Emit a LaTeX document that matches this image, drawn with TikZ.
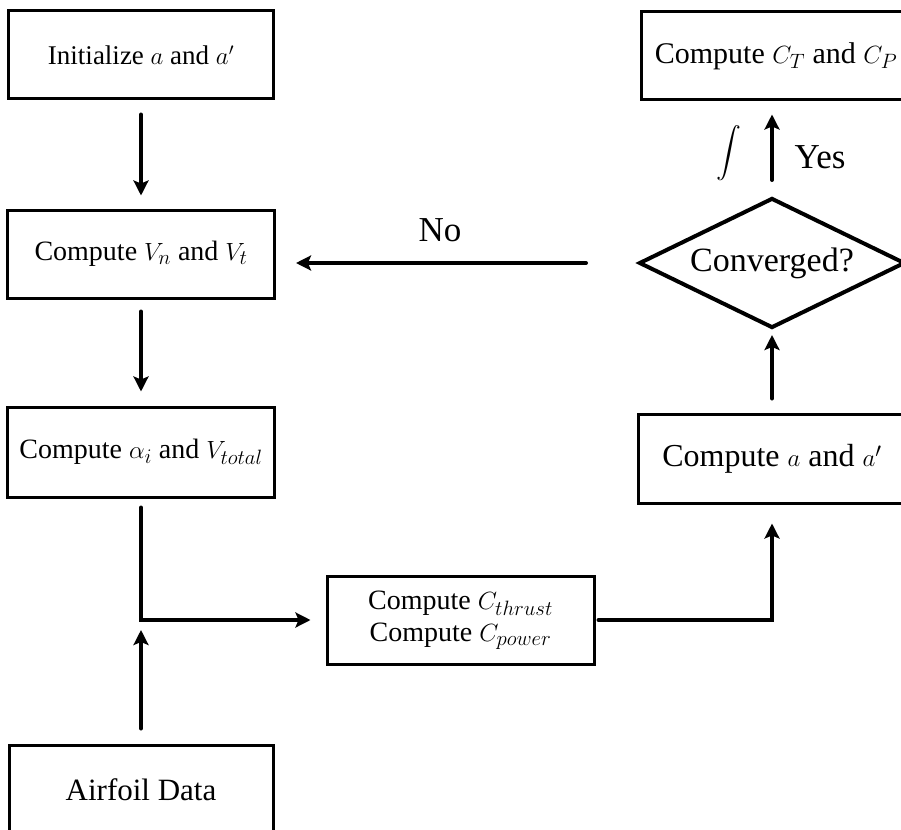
\documentclass[tikz,border=0pt]{standalone}
\usepackage{amsmath}
\usepackage{fontspec}
\setmainfont{Liberation Serif}
\usetikzlibrary{shapes.geometric,arrows.meta}
\tikzset{
  blocco/.style={draw, line width=3pt, minimum width=#1, minimum height=88pt, inner sep=0pt, align=center},
  blocco/.default=267pt,
  freccia/.style={line width=4pt, line cap=round, -{Stealth[length=15pt,width=15pt,inset=3pt]}},
}
\begin{document}
\begin{tikzpicture}[x=1pt,y=-1pt]
        \useasboundingbox (0,0) rectangle (901,829);

        %colonna sinistra
        \node[blocco=265pt, font=\fontsize{27}{30}\selectfont] (init) at (141,55) {Initialize $a$ and $a'$};
        \node[blocco, font=\fontsize{28}{32}\selectfont] (vel) at (141,254) {Compute $V_n$ and $V_t$};
        \node[blocco, minimum height=90pt, font=\fontsize{28}{32}\selectfont] (aoa) at (141,452) {Compute $\alpha_i$ and $V_{total}$};
        \node[blocco=264pt, minimum height=90pt, font=\fontsize{31}{35}\selectfont] (airfoil) at (141,790) {Airfoil Data};
        \coordinate (giunto) at (141,620);

        %blocco centrale
        \node[blocco, font=\fontsize{28}{32}\selectfont] (coef) at (460.5,620) {Compute $C_{thrust}$\\Compute $C_{power}$};
        \coordinate (gomito) at (772,620);

        %colonna destra
        \node[blocco=268pt, minimum height=89pt, font=\fontsize{32}{36}\selectfont] (induct) at (772,458.5) {Compute $a$ and $a'$};
        \node[draw, diamond, aspect=2.05, line width=4pt, minimum width=266pt, minimum height=130pt, inner sep=0pt,
              font=\fontsize{34}{38}\selectfont] (conv) at (772,263) {Converged?};
        \node[blocco=270pt, font=\fontsize{30}{34}\selectfont] (perf) at (776,56) {Compute $C_T$ and $C_P$};

        %frecce
        \draw[freccia, shorten <=14pt, shorten >=13pt] (init) -- (vel);
        \draw[freccia, shorten <=12pt, shorten >=14pt] (vel) -- (aoa);
        \draw[freccia, shorten <=9pt, shorten >=15pt] (aoa) -- (giunto) -- (coef);
        \draw[freccia, shorten <=15pt, shorten >=10pt] (airfoil) -- (giunto);
        \draw[freccia, shorten <=3pt, shorten >=19pt] (coef) -- (gomito) -- (induct);
        \draw[freccia, shorten <=14pt, shorten >=5pt] (induct) -- (conv);
        \draw[freccia, shorten <=51pt, shorten >=20pt] (conv.west) -- (conv.west -| vel.east);
        \draw[freccia, shorten <=16pt, shorten >=13pt] (conv.north) -- (conv.north |- perf.south);

        %etichette
        \node[font=\fontsize{35}{38}\selectfont] (no) at (440,230) {No};
        \node[font=\fontsize{35}{38}\selectfont] (yes) at (820,157) {Yes};
        \node[font=\fontsize{23}{26}\selectfont] (integrale) at (729,153) {$\displaystyle\int$};
\end{tikzpicture}
\end{document}
